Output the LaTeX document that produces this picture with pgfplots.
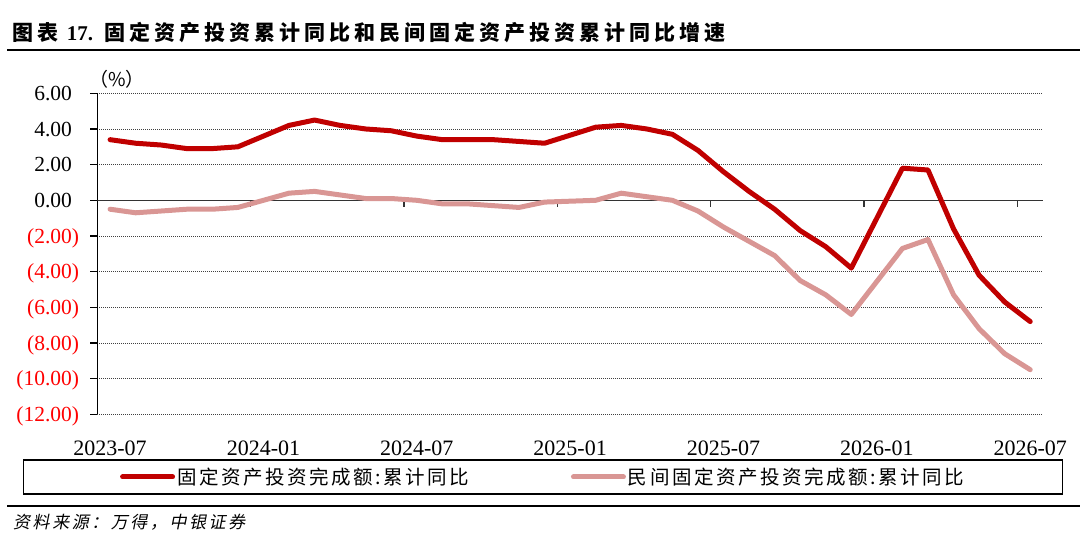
\documentclass[border=0pt]{standalone}
\usepackage{fontspec}
\usepackage{pgfplots}
\pgfplotsset{compat=1.18}
\setmainfont{Liberation Serif}
\newfontfamily\cjk{Noto Sans CJK SC}
\newfontfamily\cjktitle[LetterSpace=19]{Noto Sans CJK SC}
\newfontfamily\cjkleg[LetterSpace=13]{Noto Sans CJK SC}
\newfontfamily\cjksrc[FakeSlant=0.2,LetterSpace=15]{Noto Sans CJK SC}
\definecolor{fred}{HTML}{C00000}
\definecolor{fpink}{HTML}{D99694}
\definecolor{negred}{HTML}{FF0000}
\newcommand\neglab[1]{\textcolor{negred}{(#1)}}
\newcommand\poslab[1]{#1\phantom{)}}

\pgfplotstableread{
x y
0 3.4
1 3.2
2 3.1
3 2.9
4 2.9
5 3.0
7 4.2
8 4.5
9 4.2
10 4.0
11 3.9
12 3.6
13 3.4
14 3.4
15 3.4
16 3.3
17 3.2
19 4.1
20 4.2
21 4.0
22 3.7
23 2.8
24 1.6
25 0.5
26 -0.5
27 -1.7
28 -2.6
29 -3.8
31 1.8
32 1.7
33 -1.6
34 -4.2
35 -5.7
36 -6.8
}\fai

\pgfplotstableread{
x y
0 -0.5
1 -0.7
2 -0.6
3 -0.5
4 -0.5
5 -0.4
7 0.4
8 0.5
9 0.3
10 0.1
11 0.1
12 0.0
13 -0.2
14 -0.2
15 -0.3
16 -0.4
17 -0.1
19 0.0
20 0.4
21 0.2
22 0.0
23 -0.6
24 -1.5
25 -2.3
26 -3.1
27 -4.5
28 -5.3
29 -6.4
31 -2.7
32 -2.2
33 -5.3
34 -7.2
35 -8.6
36 -9.5
}\pfai

\begin{document}
\begin{tikzpicture}[x=1pt,y=1pt]
\useasboundingbox (0,0) rectangle (1080,-560);
% title
\node[anchor=base west,inner sep=0pt] at (12,-40)
  {\fontsize{21}{24}\selectfont\cjktitle\bfseries 图表 {\rmfamily\bfseries 17.} 固定资产投资累计同比和民间固定资产投资累计同比增速};
\draw[line width=2pt] (7,-50) -- (1080,-50);
% unit
\node[inner sep=0pt] at (117,-79) {\fontsize{19}{21}\selectfont\cjk （\%）};
% source
\draw[line width=2pt] (7,-506) -- (1080,-506);
\node[anchor=base west,inner sep=0pt] at (13,-528)
  {\fontsize{17}{20}\selectfont\cjksrc 资料来源：万得，中银证券};

\begin{axis}[
  at={(97.3pt,-414.3pt)}, anchor=south west,
  scale only axis, width=945.7pt, height=321pt,
  xmin=-0.5, xmax=36.5, ymin=-12, ymax=6,
  axis y line*=left, axis x line*=bottom,
  axis line style={-},
  x axis line style={draw=none},
  y axis line style={line width=1.6pt, black},
  xtick={0,6,...,36},
  xticklabels={2023-07,2024-01,2024-07,2025-01,2025-07,2026-01,2026-07},
  xtick style={draw=none},
  ytick={-12,-10,...,6},
  yticklabels={\neglab{12.00},\neglab{10.00},\neglab{8.00},\neglab{6.00},\neglab{4.00},\neglab{2.00},\poslab{0.00},\poslab{2.00},\poslab{4.00},\poslab{6.00}},
  ytick style={line width=1.2pt, black},
  tick align=outside, major tick length=7pt,
  ymajorgrids,
  grid style={line width=0.9pt, black!75, dash pattern=on 1pt off 1pt},
  xticklabel style={font=\fontsize{22}{24}\selectfont, anchor=north, inner sep=0pt, yshift=-19pt},
  yticklabel style={font=\fontsize{21.5}{24}\selectfont, anchor=base east, inner sep=0pt, xshift=-11pt, yshift=-7.3pt},
  legend columns=2,
  legend cell align=left,
  legend image code/.code={\draw[#1] (0pt,0pt) -- (50pt,0pt);},
  legend style={at={(0.4713,-0.1953)}, anchor=center, draw=black, line width=1.5pt,
    inner xsep=96.5pt, inner ysep=6pt,
    font=\fontsize{19.5}{22}\selectfont\cjkleg,
    /tikz/every even column/.append style={column sep=100pt}},
]
\draw[line width=1.6pt, black!80] (axis cs:-0.5,0) -- (axis cs:36.5,0);
\draw[line width=1.2pt, black!80] (axis cs:5.5,0) -- ++(0pt,-7pt);
\draw[line width=1.2pt, black!80] (axis cs:11.5,0) -- ++(0pt,-7pt);
\draw[line width=1.2pt, black!80] (axis cs:17.5,0) -- ++(0pt,-7pt);
\draw[line width=1.2pt, black!80] (axis cs:23.5,0) -- ++(0pt,-7pt);
\draw[line width=1.2pt, black!80] (axis cs:29.5,0) -- ++(0pt,-7pt);
\draw[line width=1.2pt, black!80] (axis cs:35.5,0) -- ++(0pt,-7pt);
\addplot[color=fred, line width=5pt, line join=round, line cap=round] table[x=x,y=y] {\fai};
\addlegendentry{固定资产投资完成额:累计同比}
\addplot[color=fpink, line width=5pt, line join=round, line cap=round] table[x=x,y=y] {\pfai};
\addlegendentry{民间固定资产投资完成额:累计同比}
\end{axis}
\end{tikzpicture}
\end{document}
